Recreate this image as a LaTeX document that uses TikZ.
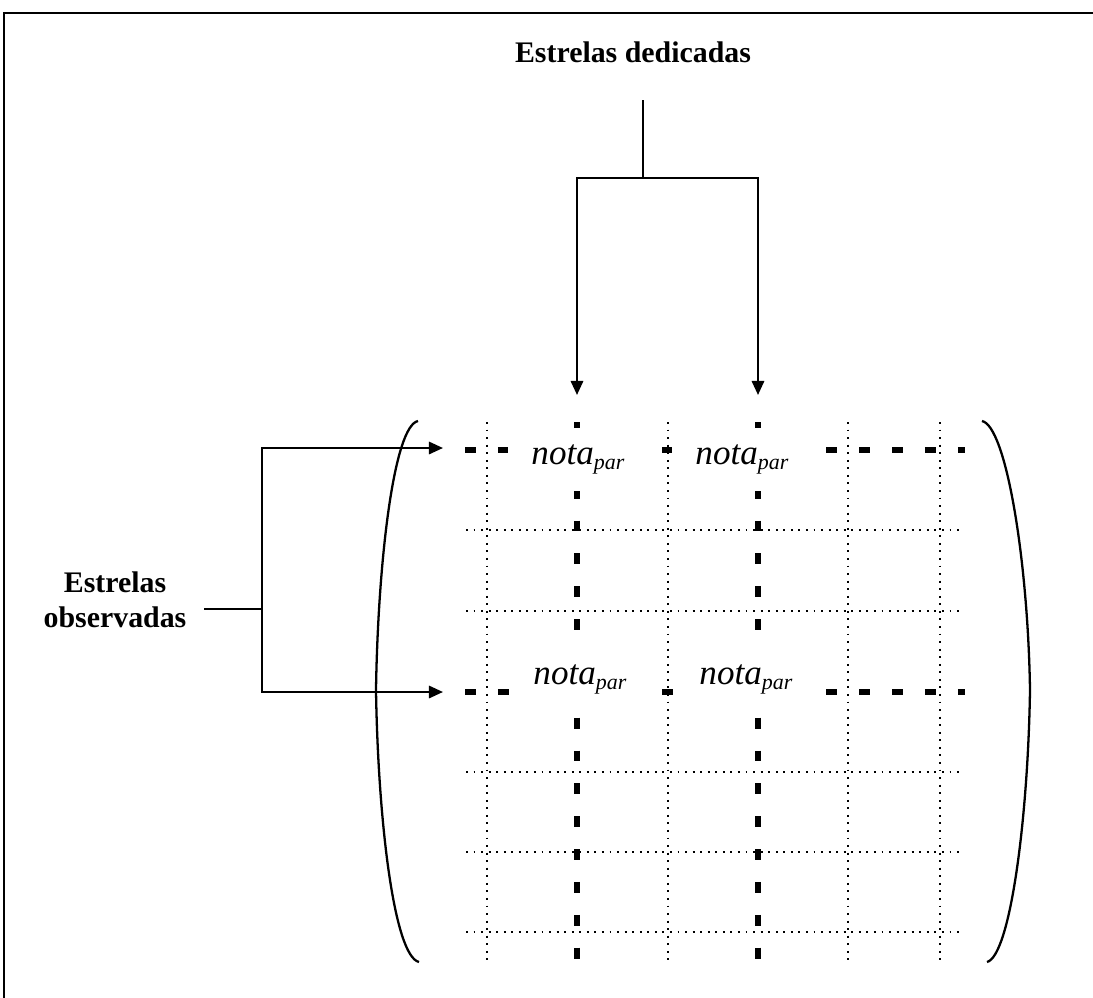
\documentclass[tikz,border=0pt]{standalone}
\usepackage{fontspec}
\setmainfont{Liberation Serif}
\usetikzlibrary{positioning,arrows.meta}
\newcommand{\notapar}{\textit{nota}\raisebox{-2.8pt}{\fontsize{12.5}{12.5}\selectfont\textit{par}}}

\begin{document}
\begin{tikzpicture}[x=0.02cm,y=-0.02cm,
  fino/.style={line width=1.2pt,dash pattern=on 1.1pt off 3.2pt},
  grosso/.style={line width=3pt,dash pattern=on 6.2pt off 12.5pt},
  liga/.style={line width=1.3pt},
  seta/.style={liga,-{Triangle[length=8pt,width=7pt]}},
  rotulo/.style={font=\fontsize{17}{20}\selectfont\bfseries,align=center},
  nota/.style={fill=white,inner sep=0pt,minimum width=2.8cm,minimum height=1.26cm,font=\fontsize{20}{24}\selectfont}]
\useasboundingbox (0,0) rectangle (1093,998);
% moldura
\draw[line width=1.2pt] (1093,13) -- (4,13) -- (4,998);
% grade da matriz
\foreach \x in {487,668,848,940} \draw[fino] (\x,422) -- (\x,960);
\foreach \y in {530,611,772,852,932} \draw[fino] (466,\y) -- (963,\y);
\foreach \x in {577,758} \draw[grosso] (\x,422) -- (\x,960);
\foreach \y in {450,692} \draw[grosso] (465,\y) -- (965,\y);
\node[nota] (n11) at (578,459) {\notapar};
\node[nota] (n12) at (742,459) {\notapar};
\node[nota] (n21) at (580,679) {\notapar};
\node[nota] (n22) at (746,679) {\notapar};
% parenteses
\draw[liga] (418,421) .. controls (394,426) and (378,560) .. (376,690)
  .. controls (378,820) and (394,956) .. (419,962);
\draw[liga] (982,421) .. controls (1006,426) and (1028,560) .. (1030,690)
  .. controls (1028,820) and (1010,956) .. (987,962);
% estrelas dedicadas
\node[rotulo,anchor=base] (ded) at (633,62) {Estrelas dedicadas};
\coordinate (dtop) at (643,100);
\coordinate (dmid) at (643,178);
\coordinate (dla) at (577,395);
\coordinate (dra) at (758,395);
\draw[liga] (dtop) -- (dmid);
\draw[seta] (dmid) -| (dla);
\draw[seta] (dmid) -| (dra);
% estrelas observadas
\node[rotulo,inner xsep=10pt] (obs) at (115,600) {Estrelas\\observadas};
\coordinate (ol) at (262,609);
\coordinate (ola) at (443,448);
\coordinate (olb) at (443,692);
\draw[liga] (obs.east |- ol) -- (ol);
\draw[seta] (ol) |- (ola);
\draw[seta] (ol) |- (olb);
\end{tikzpicture}
\end{document}
